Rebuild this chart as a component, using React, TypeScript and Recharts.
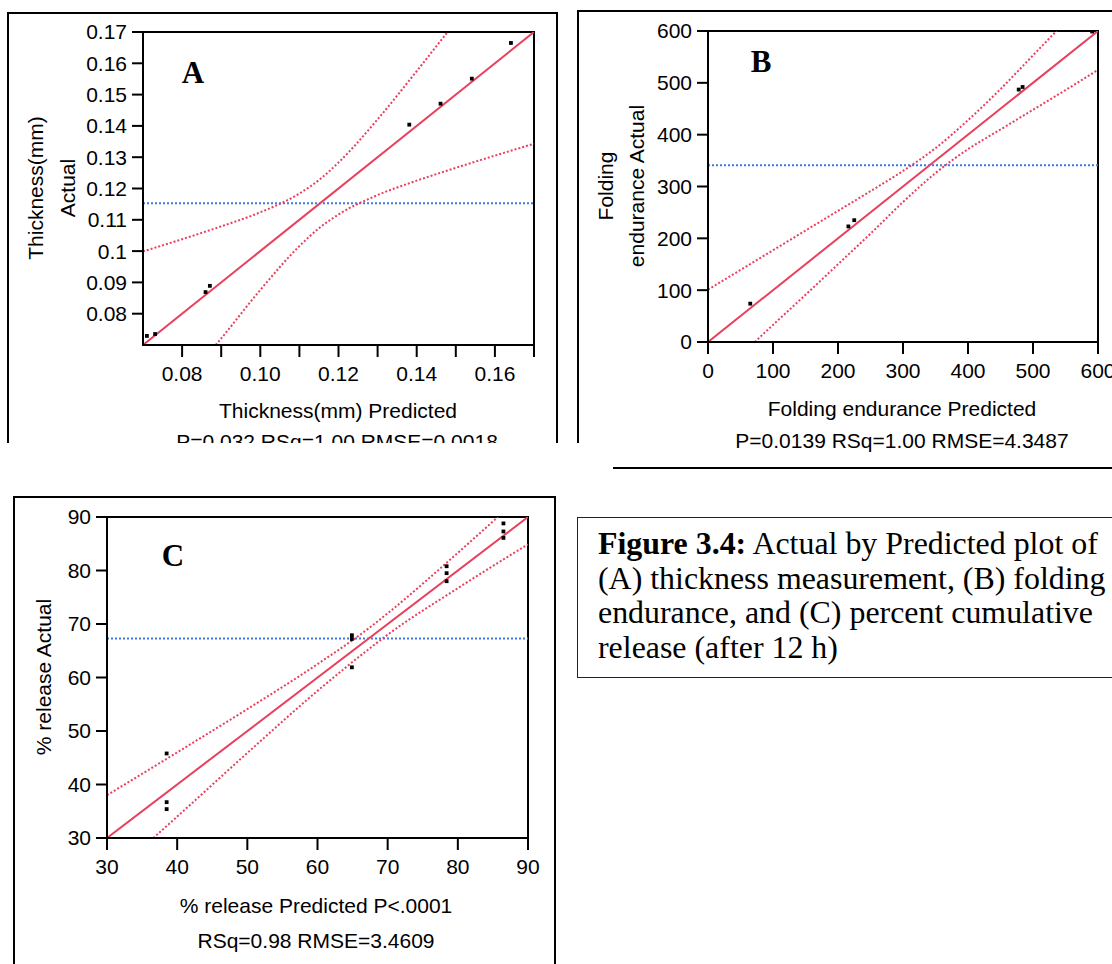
import React from 'react';
import { ComposedChart, Line, Scatter, XAxis, YAxis, ReferenceLine, ReferenceArea } from 'recharts';

// (A) thickness, mm
const thicknessPredicted = [0.071, 0.0731, 0.086, 0.0871, 0.1381, 0.1461, 0.1541, 0.1641];
const thicknessActual = [0.0729, 0.0735, 0.0869, 0.0889, 0.1404, 0.1471, 0.1551, 0.1665];
const thicknessMean = 0.1153;
const thicknessUpperX = [0.07, 0.08, 0.09, 0.1, 0.11, 0.1153, 0.12, 0.13, 0.14, 0.145, 0.1479];
const thicknessUpperY = [0.0999, 0.1038, 0.1079, 0.1124, 0.1184, 0.123, 0.1283, 0.1421, 0.1575, 0.1654, 0.17];
const thicknessLowerX = [0.0886, 0.09, 0.1, 0.11, 0.1153, 0.12, 0.13, 0.14, 0.15, 0.16, 0.17];
const thicknessLowerY = [0.07, 0.0721, 0.0876, 0.1016, 0.1076, 0.1117, 0.1179, 0.1225, 0.1266, 0.1305, 0.1343];
const thicknessFit = [0.07, 0.17];
const thicknessXTicks = [0.08, 0.09, 0.1, 0.11, 0.12, 0.13, 0.14, 0.15, 0.16, 0.17];
const thicknessYTicks = [0.08, 0.09, 0.1, 0.11, 0.12, 0.13, 0.14, 0.15, 0.16, 0.17];

// (B) folding endurance
const foldingPredicted = [65, 216, 225, 478, 484, 591];
const foldingActual = [74, 223, 235, 487, 492, 599];
const foldingMean = 341;
const foldingUpperX = [0, 100, 200, 250, 300, 350, 400, 450, 500, 536];
const foldingUpperY = [101, 177, 253, 291, 330, 374, 428, 488, 553, 600];
const foldingLowerX = [72, 100, 150, 200, 250, 300, 350, 400, 450, 500, 550, 600];
const foldingLowerY = [0, 33, 91, 150, 209, 270, 326, 372, 410, 448, 486, 525];
const foldingFit = [0, 600];
const foldingTicks = [0, 100, 200, 300, 400, 500, 600];

// (C) % release after 12 h
const releasePredicted = [38.5, 38.5, 38.5, 64.9, 64.9, 64.9, 78.4, 78.4, 78.4, 86.5, 86.5, 86.5];
const releaseActual = [45.8, 36.7, 35.4, 67.9, 67.2, 61.9, 80.8, 79.5, 78.0, 88.8, 87.3, 86.1];
const releaseMean = 67.3;
const releaseUpperX = [30, 40, 50, 60, 67.3, 70, 80, 85.7];
const releaseUpperY = [38.0, 46.0, 54.1, 62.5, 69.2, 72.0, 83.3, 90];
const releaseLowerX = [36.6, 40, 50, 60, 67.3, 70, 80, 90];
const releaseLowerY = [30, 34.0, 45.9, 57.5, 65.3, 68.0, 76.7, 84.9];
const releaseFit = [30, 90];
const releaseTicks = [30, 40, 50, 60, 70, 80, 90];

const RED = '#e8405c';
const BLUE = '#3b7be0';
const SANS = '"Liberation Sans", Arial, sans-serif';
const SERIF = '"Liberation Serif", "Times New Roman", serif';

const pairs = (xs: number[], ys: number[]) => xs.map((x, i) => ({ x, y: ys[i] }));

const Dot = (p: any) => (
  <rect x={p.cx - 1.9} y={p.cy - 1.9} width={3.8} height={3.8} fill="#000" />
);

function Plot(props: any) {
  const { left, top, width, height, margin, yWidth, domain, xTicks, yTicks, xFormat, yFormat,
    points, upper, lower, fit, mean } = props;
  const axisLine = { stroke: '#000', strokeWidth: 2 };
  const tick = { fill: '#000', fontSize: 21, fontFamily: SANS };
  return (
    <div style={{ position: 'absolute', left, top }}>
      <ComposedChart width={width} height={height} margin={margin}>
        <XAxis type="number" dataKey="x" domain={domain} ticks={xTicks} interval={0}
          allowDataOverflow tickFormatter={xFormat} tickSize={12} tickMargin={9} height={60}
          axisLine={axisLine} tickLine={axisLine} tick={tick} />
        <YAxis type="number" dataKey="y" domain={domain} ticks={yTicks} interval={0}
          allowDataOverflow tickFormatter={yFormat} tickSize={11} tickMargin={5} width={yWidth}
          axisLine={axisLine} tickLine={axisLine} tick={tick} />
        <ReferenceArea x1={domain[0]} x2={domain[1]} y1={domain[0]} y2={domain[1]}
          fill="none" stroke="#000" strokeWidth={2} />
        <ReferenceLine y={mean} stroke={BLUE} strokeWidth={2} strokeDasharray="2 2" />
        <Line data={upper} dataKey="y" type="monotone" stroke={RED} strokeWidth={2}
          strokeDasharray="2 2" dot={false} isAnimationActive={false} />
        <Line data={lower} dataKey="y" type="monotone" stroke={RED} strokeWidth={2}
          strokeDasharray="2 2" dot={false} isAnimationActive={false} />
        <Line data={fit} dataKey="y" type="linear" stroke={RED} strokeWidth={2}
          dot={false} isAnimationActive={false} />
        <Scatter data={points} dataKey="y" shape={Dot} isAnimationActive={false} />
      </ComposedChart>
    </div>
  );
}

function Text({ x, y, children, rotate, size = 21, font = SANS, bold }: any) {
  return (
    <div style={{
      position: 'absolute', left: x, top: y, whiteSpace: 'nowrap',
      transform: `translate(-50%, -50%)${rotate ? ' rotate(-90deg)' : ''}`,
      fontFamily: font, fontSize: size, fontWeight: bold ? 'bold' : 'normal', lineHeight: 1.15,
      color: '#000',
    }}>{children}</div>
  );
}

const frame = (s: any) => ({ position: 'absolute' as const, boxSizing: 'border-box' as const, ...s });

export default function App() {
  const evenHundredth = (v: number) => (Math.round(v * 100) % 2 === 0 ? v.toFixed(2) : '');
  return (
    <div style={{ position: 'absolute', left: 0, top: 0, width: 1112, height: 964, overflow: 'hidden', background: '#fff' }}>
      {/* frames */}
      <div style={frame({ left: 7, top: 12, width: 551, height: 431, borderTop: '2px solid #000', borderLeft: '2px solid #000', borderRight: '2px solid #000' })} />
      <div style={frame({ left: 577, top: 10, width: 560, height: 433, borderTop: '2px solid #000', borderLeft: '2px solid #000' })} />
      <div style={frame({ left: 613, top: 467, width: 520, height: 2, background: '#000' })} />
      <div style={frame({ left: 13, top: 496, width: 543, height: 500, border: '2px solid #000' })} />
      <div style={frame({ left: 577, top: 517, width: 560, height: 161, border: '1.5px solid #222' })} />

      <Plot left={0} top={0} width={560} height={460}
        margin={{ top: 32, right: 26, left: 0, bottom: 55 }} yWidth={143}
        domain={[0.07, 0.17]} xTicks={thicknessXTicks} yTicks={thicknessYTicks}
        xFormat={evenHundredth} yFormat={(v: number) => String(v)}
        points={pairs(thicknessPredicted, thicknessActual)}
        upper={pairs(thicknessUpperX, thicknessUpperY)}
        lower={pairs(thicknessLowerX, thicknessLowerY)}
        fit={pairs(thicknessFit, thicknessFit)} mean={thicknessMean} />

      <Plot left={560} top={0} width={552} height={460}
        margin={{ top: 31, right: 14, left: 0, bottom: 58 }} yWidth={148}
        domain={[0, 600]} xTicks={foldingTicks} yTicks={foldingTicks}
        points={pairs(foldingPredicted, foldingActual)}
        upper={pairs(foldingUpperX, foldingUpperY)}
        lower={pairs(foldingLowerX, foldingLowerY)}
        fit={pairs(foldingFit, foldingFit)} mean={foldingMean} />

      <Plot left={0} top={486} width={560} height={478}
        margin={{ top: 31, right: 32, left: 0, bottom: 66 }} yWidth={107}
        domain={[30, 90]} xTicks={releaseTicks} yTicks={releaseTicks}
        points={pairs(releasePredicted, releaseActual)}
        upper={pairs(releaseUpperX, releaseUpperY)}
        lower={pairs(releaseLowerX, releaseLowerY)}
        fit={pairs(releaseFit, releaseFit)} mean={releaseMean} />

      {/* panel A text */}
      <Text x={36} y={188} rotate>Thickness(mm)</Text>
      <Text x={68} y={188} rotate>Actual</Text>
      <Text x={193} y={73} size={31} font={SERIF} bold>A</Text>
      <Text x={338} y={411}>Thickness(mm) Predicted</Text>
      <div style={{ position: 'absolute', left: 0, top: 420, width: 560, height: 23, overflow: 'hidden' }}>
        <Text x={337} y={22}>P=0.032 RSq=1.00 RMSE=0.0018</Text>
      </div>

      {/* panel B text */}
      <Text x={606} y={186} rotate>Folding</Text>
      <Text x={637} y={186} rotate>endurance Actual</Text>
      <Text x={761} y={62} size={31} font={SERIF} bold>B</Text>
      <Text x={902} y={409}>Folding endurance Predicted</Text>
      <Text x={902} y={441}>P=0.0139 RSq=1.00 RMSE=4.3487</Text>

      {/* panel C text */}
      <Text x={44} y={677} rotate>% release Actual</Text>
      <Text x={173} y={556} size={31} font={SERIF} bold>C</Text>
      <Text x={316} y={906}>% release Predicted P&lt;.0001</Text>
      <Text x={316} y={941}>RSq=0.98 RMSE=3.4609</Text>

      {/* caption */}
      <div style={{ position: 'absolute', left: 598, top: 527, fontFamily: SERIF, fontSize: 31.9, lineHeight: '34.5px', whiteSpace: 'nowrap', color: '#000' }}>
        <b>Figure 3.4:</b> Actual by Predicted plot of<br />
        (A) thickness measurement, (B) folding<br />
        endurance, and (C) percent cumulative<br />
        release (after 12 h)
      </div>
    </div>
  );
}
